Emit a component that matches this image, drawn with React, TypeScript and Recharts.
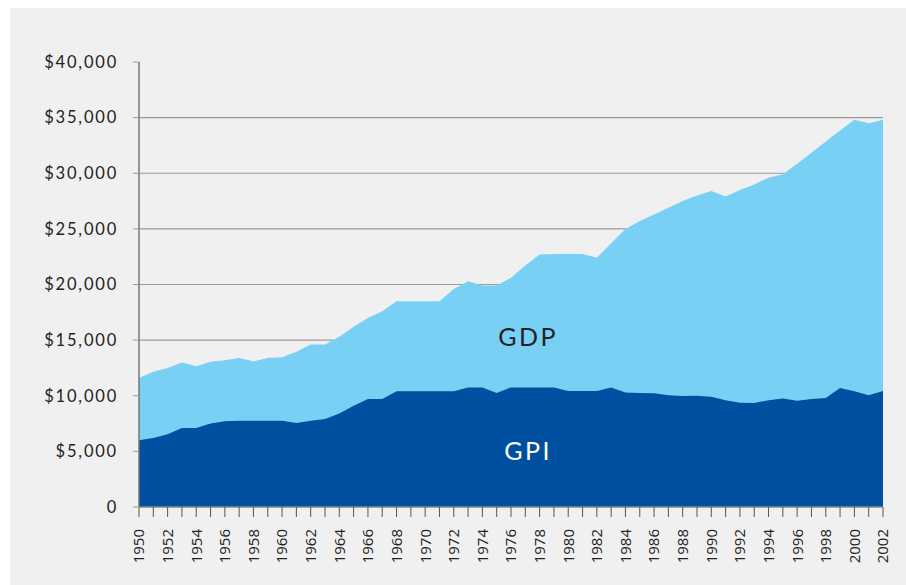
import { AreaChart, Area, XAxis, YAxis, CartesianGrid, ReferenceDot } from "recharts";

const years = [
  1950, 1951, 1952, 1953, 1954, 1955, 1956, 1957, 1958, 1959,
  1960, 1961, 1962, 1963, 1964, 1965, 1966, 1967, 1968, 1969,
  1970, 1971, 1972, 1973, 1974, 1975, 1976, 1977, 1978, 1979,
  1980, 1981, 1982, 1983, 1984, 1985, 1986, 1987, 1988, 1989,
  1990, 1991, 1992, 1993, 1994, 1995, 1996, 1997, 1998, 1999,
  2000, 2001, 2002,
];

const gdp = [
  11600, 12150, 12500, 13000, 12650, 13050, 13200, 13400, 13100, 13400,
  13450, 13950, 14600, 14600, 15300, 16200, 17000, 17600, 18500, 18500,
  18500, 18500, 19600, 20300, 19900, 19900, 20600, 21700, 22700, 22750,
  22750, 22750, 22400, 23700, 25000, 25700, 26300, 26900, 27500, 28000,
  28400, 27900, 28500, 29000, 29600, 29900, 30850, 31850, 32850, 33850,
  34800, 34500, 34800,
];

const gpi = [
  6000, 6200, 6550, 7100, 7100, 7500, 7700, 7760, 7760, 7760,
  7760, 7550, 7760, 7900, 8400, 9100, 9700, 9700, 10400, 10400,
  10400, 10400, 10400, 10750, 10750, 10250, 10750, 10750, 10750, 10750,
  10430, 10430, 10430, 10750, 10300, 10250, 10220, 10050, 9980, 9990,
  9900, 9600, 9380, 9340, 9600, 9750, 9560, 9700, 9800, 10700,
  10400, 10050, 10430,
];

const yTicks = [0, 5000, 10000, 15000, 20000, 25000, 30000, 35000, 40000];
const gridValues = [5000, 10000, 15000, 20000, 25000, 30000, 35000];

const data = years.map((year, i) => ({ year, gdp: gdp[i], gpi: gpi[i] }));

const YearTick = ({ x, y, payload }: any) => {
  if (payload.value % 2 !== 0) return null;
  return (
    <g transform={`translate(${x},${y + 12})`}>
      <text
        transform="rotate(-90)"
        textAnchor="end"
        dy="0.36em"
        fill="#222"
        fontSize={15}
        fontFamily="'Open Sans', sans-serif"
      >
        {payload.value}
      </text>
    </g>
  );
};

const money = (v: number) => (v === 0 ? "0" : "$" + v.toLocaleString("en-US"));

export default function App() {
  return (
    <div style={{ position: "absolute", left: 0, top: 0, width: 906, height: 585, background: "#fff" }}>
      <div style={{ position: "absolute", left: 10, top: 8, width: 896, height: 577, background: "#f0f0f0" }}>
        <AreaChart
          width={896}
          height={577}
          data={data}
          margin={{ top: 54, right: 23, bottom: 8, left: 39 }}
        >
          <CartesianGrid
            vertical={false}
            horizontalValues={gridValues}
            stroke="#9a9a9a"
            strokeWidth={1.2}
          />
          <XAxis
            dataKey="year"
            type="number"
            domain={[1950, 2002]}
            ticks={years}
            interval={0}
            height={70}
            tickSize={10}
            tickMargin={0}
            tick={<YearTick />}
            axisLine={{ stroke: "#8a8a8a", strokeWidth: 1.5 }}
            tickLine={{ stroke: "#555" }}
          />
          <YAxis
            domain={[0, 40000]}
            ticks={yTicks}
            interval={0}
            width={90}
            tickSize={6}
            tickMargin={15}
            tickFormatter={money}
            tick={{ fill: "#222", fontSize: 16.5, fontFamily: "Lato, sans-serif", letterSpacing: 1.8 }}
            axisLine={{ stroke: "#777", strokeWidth: 1.5 }}
            tickLine={{ stroke: "#9a9a9a" }}
          />
          <Area
            type="linear"
            dataKey="gdp"
            stroke="none"
            fill="#78d1f5"
            fillOpacity={1}
            isAnimationActive={false}
          />
          <Area
            type="linear"
            dataKey="gpi"
            stroke="none"
            fill="#0050a1"
            fillOpacity={1}
            isAnimationActive={false}
          />
          <ReferenceDot
            x={1977.2}
            y={15300}
            r={0}
            fill="none"
            stroke="none"
            label={{ value: "GDP", position: "center", fill: "#222", fontSize: 25, fontFamily: "Lato, sans-serif", letterSpacing: 2.5 }}
          />
          <ReferenceDot
            x={1977.2}
            y={5000}
            r={0}
            fill="none"
            stroke="none"
            label={{ value: "GPI", position: "center", fill: "#fff", fontSize: 25, fontFamily: "Lato, sans-serif", letterSpacing: 2.5 }}
          />
        </AreaChart>
      </div>
    </div>
  );
}
